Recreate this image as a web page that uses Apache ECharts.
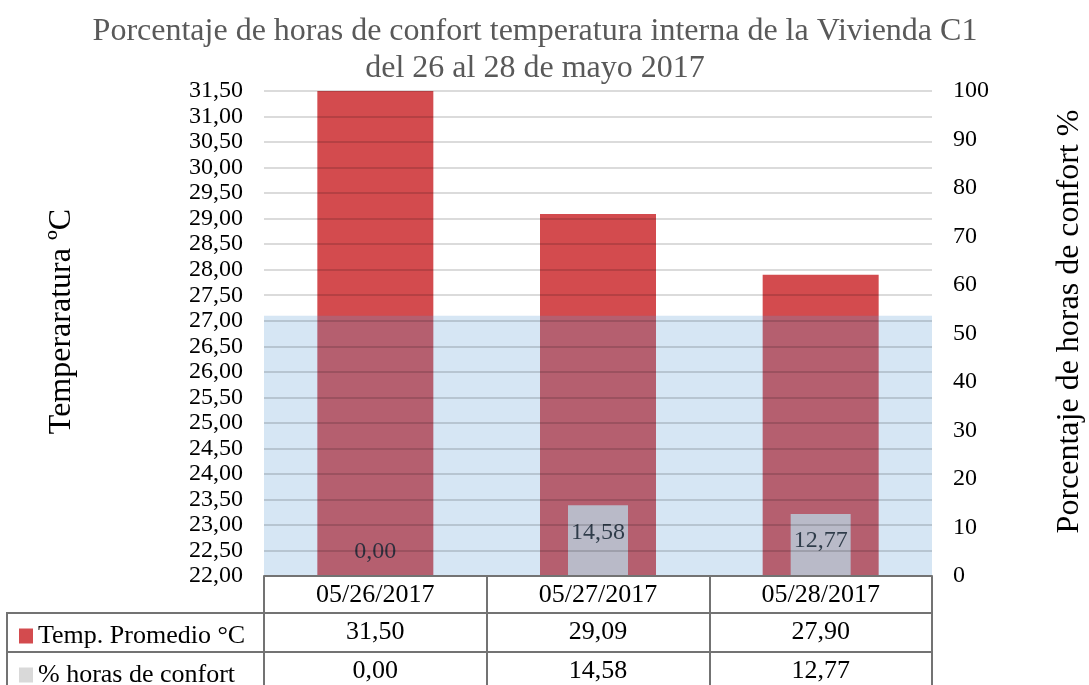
<!DOCTYPE html>
<html>
<head>
<meta charset="utf-8">
<title>Porcentaje de horas de confort - Vivienda C1</title>
<script src="https://cdn.jsdelivr.net/npm/echarts@6.0.0/dist/echarts.min.js"></script>
<style>
  html, body { margin: 0; padding: 0; background: #fff; }
  #main { width: 1089px; height: 685px; }
</style>
</head>
<body>
<div id="main"></div>
<script>
// datos
const fechas = ['05/26/2017', '05/27/2017', '05/28/2017'];
const tempPromedio = [31.50, 29.09, 27.90];
const horasConfort = [0.00, 14.58, 12.77];
const zonaConfort = [22, 27.1]; // banda azul (°C)
const tempTicks = { min: 22, max: 31.5, step: 0.5 };
const pctTicks = { min: 0, max: 100, step: 10 };

const serif = "'Liberation Serif', 'Times New Roman', serif";
const lineaTabla = { color: '#737373', width: 2 };
const fmt = v => Number(v).toFixed(2).replace('.', ',');

const chart = echarts.init(document.getElementById('main'));

// eje de categorias + dos filas de la tabla de datos
function ejeX(offset, len, formatter) {
  return {
    type: 'category',
    data: fechas,
    position: 'bottom',
    offset: offset,
    z: 5,
    axisLine: { show: true, lineStyle: lineaTabla },
    axisTick: { show: true, length: len, lineStyle: lineaTabla },
    axisLabel: { margin: 6, fontSize: 26, color: '#000', fontFamily: serif, formatter: formatter }
  };
}

// una leyenda por fila de la tabla
function leyenda(nombre, top) {
  return {
    orient: 'vertical',
    left: 14,
    top: top,
    itemWidth: 14,
    itemHeight: 15,
    icon: 'rect',
    selectedMode: false,
    textStyle: { fontSize: 26, color: '#000', fontFamily: serif },
    data: [{ name: nombre, itemStyle: { opacity: 1 } }]
  };
}

chart.setOption({
  textStyle: { fontFamily: serif },
  animation: false,
  title: {
    text: 'Porcentaje de horas de confort temperatura interna de la Vivienda C1\ndel 26 al 28 de mayo 2017',
    left: 535,
    top: 13,
    textAlign: 'center',
    padding: 0,
    textStyle: { fontSize: 32, fontWeight: 'normal', color: '#595959', lineHeight: 37, fontFamily: serif }
  },
  legend: [
    leyenda('Temp. Promedio °C', 618),
    leyenda('% horas de confort', 657)
  ],
  grid: { left: 264, right: 157, top: 91, bottom: 109, outerBoundsMode: 'none' },
  xAxis: [
    ejeX(0, 37, v => v),
    ejeX(37, 39, (v, i) => fmt(tempPromedio[i])),
    ejeX(76, 45, (v, i) => fmt(horasConfort[i]))
  ],
  yAxis: [
    {
      type: 'value',
      position: 'left',
      min: tempTicks.min,
      max: tempTicks.max,
      interval: tempTicks.step,
      z: 4,
      name: 'Temperaratura ºC',
      nameLocation: 'middle',
      nameRotate: 90,
      nameGap: 186,
      nameTextStyle: { fontSize: 32, color: '#000', fontFamily: serif, padding: [0, 0, 0, 24] },
      axisLine: { show: false },
      axisTick: { show: false },
      axisLabel: { fontSize: 24, color: '#000', margin: 21, formatter: fmt },
      splitLine: { lineStyle: { color: 'rgba(0,0,0,0.14)', width: 2 } }
    },
    {
      type: 'value',
      position: 'right',
      min: pctTicks.min,
      max: pctTicks.max,
      interval: pctTicks.step,
      name: 'Porcentaje de horas de confort %',
      nameLocation: 'middle',
      nameRotate: 90,
      nameGap: 122,
      nameTextStyle: { fontSize: 32, color: '#000', fontFamily: serif, padding: [0, 0, 0, 24] },
      axisLine: { show: false },
      axisTick: { show: false },
      axisLabel: { fontSize: 24, color: '#000', margin: 21 },
      splitLine: { show: false }
    }
  ],
  series: [
    {
      name: 'Temp. Promedio °C',
      type: 'bar',
      xAxisIndex: 0,
      yAxisIndex: 0,
      barWidth: 116,
      data: tempPromedio,
      itemStyle: { color: '#d34b4e' },
      markArea: {
        silent: true,
        z: 3,
        itemStyle: { color: 'rgba(91,155,213,0.25)' },
        data: [[{ yAxis: zonaConfort[0] }, { yAxis: zonaConfort[1] }]]
      }
    },
    {
      name: '% horas de confort',
      type: 'bar',
      xAxisIndex: 1,
      yAxisIndex: 1,
      barWidth: 60,
      itemStyle: { color: '#d9d9d9', opacity: 0.85 },
      data: horasConfort.map(v => ({
        value: v,
        label: v === 0 ? { position: 'top', distance: 12 } : { position: 'insideTop', distance: 15 }
      })),
      label: {
        show: true,
        fontSize: 24,
        color: '#000',
        fontFamily: serif,
        formatter: p => fmt(p.value)
      }
    }
  ],
  // bordes de la columna izquierda de la tabla
  graphic: [
    { type: 'line', shape: { x1: 7, y1: 613, x2: 264, y2: 613 }, style: { stroke: lineaTabla.color, lineWidth: 2 } },
    { type: 'line', shape: { x1: 7, y1: 652, x2: 264, y2: 652 }, style: { stroke: lineaTabla.color, lineWidth: 2 } },
    { type: 'line', shape: { x1: 7, y1: 612, x2: 7, y2: 690 }, style: { stroke: lineaTabla.color, lineWidth: 2 } }
  ]
});
</script>
</body>
</html>
